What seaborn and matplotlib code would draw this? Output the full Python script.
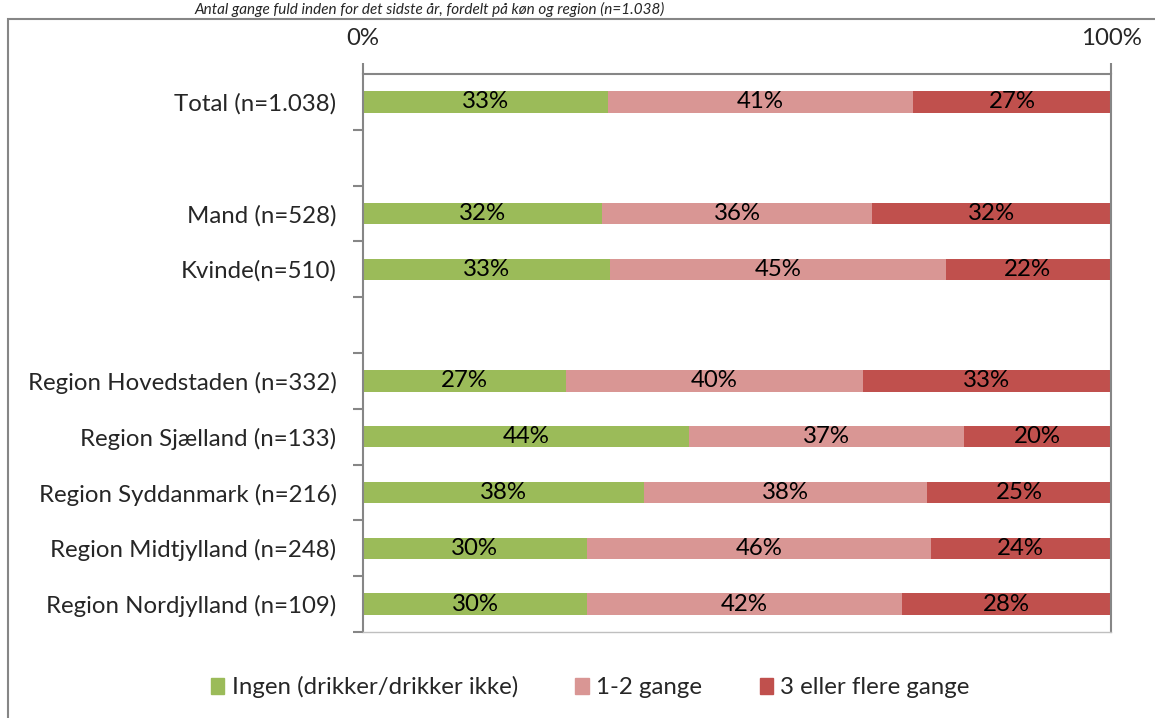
import matplotlib
matplotlib.use('Agg')
import matplotlib.pyplot as plt
import numpy as np
import pandas as pd
import seaborn as sns
from matplotlib.patches import Rectangle

# ======== Data ========
categories = ['Total (n=1.038)', ' ', 'Mand (n=528)', 'Kvinde(n=510)', '  ',
              'Region Hovedstaden (n=332)', 'Region Sjælland (n=133)',
              'Region Syddanmark (n=216)', 'Region Midtjylland (n=248)',
              'Region Nordjylland (n=109)']
ingen = [32.8, np.nan, 32.0, 33.0, np.nan, 27.1, 43.6, 37.6, 29.9, 30.0]
en_to = [40.7, np.nan, 36.0, 44.9, np.nan, 39.8, 36.8, 37.8, 46.0, 42.0]
tre_plus = [26.6, np.nan, 32.0, 21.9, np.nan, 32.9, 19.6, 24.6, 24.0, 28.0]
series_names = ['Ingen (drikker/drikker ikke)', '1-2 gange', '3 eller flere gange']
colors = ['#9BBB59', '#D99694', '#C0504D']
title = 'Antal gange fuld inden for det sidste år, fordelt på køn og region (n=1.038)'

df = pd.DataFrame({'kategori': categories, series_names[0]: ingen,
                   series_names[1]: en_to, series_names[2]: tre_plus})
cum = df[series_names].cumsum(axis=1)

sns.set_theme(style='white')
plt.rcParams['font.family'] = ['Lato', 'DejaVu Sans']
fs = 17.3
grey = '#868686'

fig = plt.figure(figsize=(11.55, 7.18), dpi=100)
ax = fig.add_axes([363 / 1155, 1 - 632 / 718, 748 / 1155, 558 / 718])

# Stacked bars: draw cumulative totals from the largest down
for i in reversed(range(3)):
    sns.barplot(x=cum[series_names[i]], y=df['kategori'], order=categories,
                color=colors[i], orient='h', width=0.38, saturation=1,
                edgecolor='none', ax=ax)

# Segment labels
for i, name in enumerate(series_names):
    for j, v in enumerate(df[name]):
        if np.isnan(v):
            continue
        start = cum[name].iloc[j] - v
        ax.text(start + v / 2, j, f'{v:.0f}%', ha='center', va='center',
                fontsize=fs, color='black')

ax.set_xlim(0, 100)
ax.set_ylim(len(categories) - 0.5, -0.5)
ax.set_xlabel('')
ax.set_ylabel('')

# X axis on top
ax.xaxis.tick_top()
ax.set_xticks([0, 100])
ax.set_xticklabels(['0%', '100%'], fontsize=fs)
ax.tick_params(axis='x', which='major', direction='out', length=8, width=1.5,
               color=grey, pad=10)

# Category labels on centers, ticks at boundaries
ax.set_yticks(range(len(categories)))
ax.set_yticklabels(categories, fontsize=fs)
ax.set_yticks(np.arange(0.5, len(categories), 1), minor=True)
ax.tick_params(axis='y', which='major', length=0, pad=19)
ax.tick_params(axis='y', which='minor', direction='out', length=7, width=1.5,
               color=grey, left=True)

for s in ['left', 'top', 'right']:
    ax.spines[s].set_visible(True)
    ax.spines[s].set_color(grey)
    ax.spines[s].set_linewidth(1.5)
ax.spines['bottom'].set_color('#BFBFBF')
ax.spines['bottom'].set_linewidth(1)

# Legend
handles = [Rectangle((0, 0), 1, 1, color=c) for c in colors]
fig.legend(handles, series_names, loc='center', bbox_to_anchor=(0.511, 0.043),
           ncol=3, frameon=False, fontsize=fs, handlelength=0.55,
           handleheight=0.65, handletextpad=0.3, columnspacing=2.4)

# Outer chart frame
fig.patches.append(Rectangle((8 / 1155, -0.01), 1.02, 1 - 19 / 718 + 0.01,
                             transform=fig.transFigure, fill=False,
                             edgecolor=grey, linewidth=1.5))

# Title, squeezed into the strip above the frame
fig.text(665 / 1155, 1 - 14 / 718, title, ha='right', va='baseline',
         fontsize=11, style='italic')

fig.savefig('out.png', dpi=100)
